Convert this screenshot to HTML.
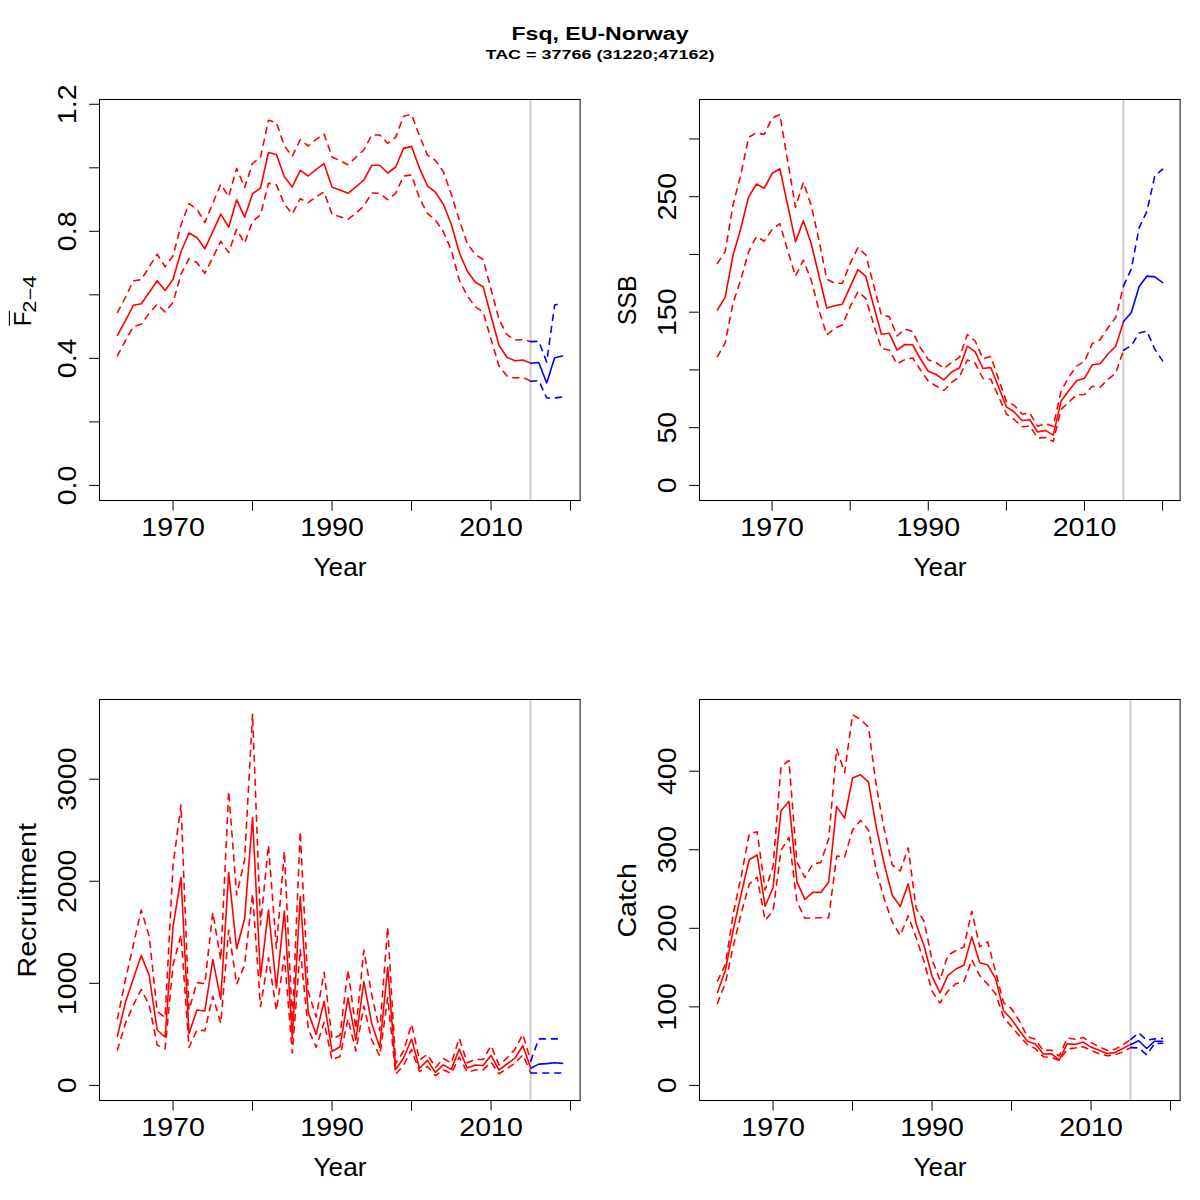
<!DOCTYPE html>
<html><head><meta charset="utf-8"><style>
html,body{margin:0;padding:0;background:#fff;}
svg{display:block;font-family:"Liberation Sans", sans-serif;}
</style></head><body>
<svg width="1200" height="1200" viewBox="0 0 1200 1200">
<rect width="1200" height="1200" fill="#fff"/>
<line x1="530.59" y1="99.40" x2="530.59" y2="500.20" stroke="#cccccc" stroke-width="2"/>
<polyline points="117.41,335.30 125.36,320.80 133.31,305.30 141.26,303.70 149.21,292.50 157.16,280.80 165.11,290.50 173.06,279.20 181.01,251.70 188.96,233.00 196.90,237.50 204.85,248.80 212.80,231.70 220.75,214.20 228.70,227.00 236.65,199.70 244.60,217.20 252.55,193.70 260.50,188.00 268.45,152.50 276.40,154.50 284.35,176.70 292.30,187.00 300.25,170.40 308.20,176.00 316.15,169.30 324.10,163.70 332.05,187.30 340.00,190.00 347.95,193.30 355.90,186.90 363.85,180.00 371.80,165.30 379.75,165.30 387.70,173.00 395.65,167.00 403.60,148.40 411.55,146.40 419.50,168.30 427.45,185.80 435.40,192.20 443.35,204.20 451.30,224.20 459.25,252.50 467.20,271.00 475.15,282.00 483.10,286.70 491.04,316.00 498.99,345.30 506.94,357.30 514.89,360.70 522.84,360.00 530.79,363.30" fill="none" stroke="#ff0000" stroke-width="1.6" stroke-linejoin="round" stroke-linecap="round"/>
<polyline points="117.41,355.80 125.36,340.80 133.31,326.70 141.26,324.20 149.21,313.30 157.16,304.20 165.11,312.00 173.06,302.50 181.01,274.20 188.96,258.70 196.90,262.50 204.85,273.30 212.80,257.50 220.75,241.30 228.70,252.50 236.65,229.20 244.60,243.30 252.55,221.30 260.50,215.00 268.45,183.30 276.40,184.70 284.35,204.20 292.30,214.00 300.25,198.70 308.20,202.70 316.15,196.70 324.10,192.00 332.05,214.40 340.00,216.70 347.95,219.30 355.90,213.30 363.85,206.00 371.80,193.00 379.75,193.30 387.70,199.70 395.65,193.30 403.60,176.00 411.55,175.00 419.50,198.30 427.45,213.30 435.40,220.00 443.35,231.70 451.30,250.00 459.25,280.00 467.20,295.80 475.15,306.70 483.10,312.00 491.04,339.30 498.99,366.00 506.94,376.00 514.89,378.00 522.84,377.30 530.79,381.30" fill="none" stroke="#ff0000" stroke-width="1.6" stroke-linejoin="round" stroke-linecap="round" stroke-dasharray="6 6"/>
<polyline points="117.41,312.50 125.36,297.50 133.31,280.80 141.26,279.70 149.21,266.70 157.16,254.20 165.11,266.70 173.06,255.80 181.01,225.00 188.96,203.70 196.90,209.20 204.85,222.50 212.80,203.30 220.75,184.20 228.70,196.70 236.65,168.30 244.60,187.50 252.55,163.30 260.50,157.50 268.45,120.30 276.40,122.50 284.35,145.80 292.30,156.30 300.25,139.70 308.20,146.00 316.15,139.30 324.10,134.00 332.05,157.00 340.00,160.70 347.95,164.70 355.90,157.30 363.85,150.00 371.80,135.00 379.75,135.00 387.70,143.30 395.65,137.30 403.60,116.20 411.55,114.50 419.50,135.80 427.45,155.00 435.40,160.30 443.35,171.70 451.30,194.20 459.25,220.00 467.20,243.30 475.15,254.50 483.10,259.30 491.04,289.30 498.99,319.30 506.94,334.70 514.89,340.00 522.84,339.70 530.79,341.60" fill="none" stroke="#ff0000" stroke-width="1.6" stroke-linejoin="round" stroke-linecap="round" stroke-dasharray="6 6"/>
<polyline points="530.79,363.30 538.74,362.50 546.69,383.00 554.64,357.80 562.59,356.00" fill="none" stroke="#0000ff" stroke-width="1.6" stroke-linejoin="round" stroke-linecap="round"/>
<polyline points="530.79,381.30 538.74,380.50 546.69,398.00 554.64,398.00 562.59,397.00" fill="none" stroke="#0000ff" stroke-width="1.6" stroke-linejoin="round" stroke-linecap="round" stroke-dasharray="6 6"/>
<polyline points="530.79,341.60 538.74,341.30 546.69,362.00 554.64,305.00 562.59,303.00" fill="none" stroke="#0000ff" stroke-width="1.6" stroke-linejoin="round" stroke-linecap="round" stroke-dasharray="6 6"/>
<rect x="99.50" y="99.50" width="480.60" height="401.00" fill="none" stroke="#000" stroke-width="1"/>
<line x1="173.06" y1="500.50" x2="570.54" y2="500.50" stroke="#000" stroke-width="1"/>
<line x1="173.06" y1="500.50" x2="173.06" y2="510.60" stroke="#000" stroke-width="1"/>
<line x1="252.55" y1="500.50" x2="252.55" y2="510.60" stroke="#000" stroke-width="1"/>
<line x1="332.05" y1="500.50" x2="332.05" y2="510.60" stroke="#000" stroke-width="1"/>
<line x1="411.55" y1="500.50" x2="411.55" y2="510.60" stroke="#000" stroke-width="1"/>
<line x1="491.04" y1="500.50" x2="491.04" y2="510.60" stroke="#000" stroke-width="1"/>
<line x1="570.54" y1="500.50" x2="570.54" y2="510.60" stroke="#000" stroke-width="1"/>
<text x="173.06" y="536.00" font-size="25.3" text-anchor="middle" textLength="63.6" lengthAdjust="spacingAndGlyphs">1970</text>
<text x="332.05" y="536.00" font-size="25.3" text-anchor="middle" textLength="63.6" lengthAdjust="spacingAndGlyphs">1990</text>
<text x="491.04" y="536.00" font-size="25.3" text-anchor="middle" textLength="63.6" lengthAdjust="spacingAndGlyphs">2010</text>
<text x="340.00" y="575.80" font-size="25.3" text-anchor="middle" textLength="53" lengthAdjust="spacingAndGlyphs">Year</text>
<line x1="99.50" y1="485.40" x2="99.50" y2="104.28" stroke="#000" stroke-width="1"/>
<line x1="99.50" y1="485.40" x2="89.20" y2="485.40" stroke="#000" stroke-width="1"/>
<text x="76.00" y="485.40" font-size="25.3" text-anchor="middle" textLength="39.8" lengthAdjust="spacingAndGlyphs" transform="rotate(-90 76.00 485.40)">0.0</text>
<line x1="99.50" y1="421.88" x2="89.20" y2="421.88" stroke="#000" stroke-width="1"/>
<line x1="99.50" y1="358.36" x2="89.20" y2="358.36" stroke="#000" stroke-width="1"/>
<text x="76.00" y="358.36" font-size="25.3" text-anchor="middle" textLength="39.8" lengthAdjust="spacingAndGlyphs" transform="rotate(-90 76.00 358.36)">0.4</text>
<line x1="99.50" y1="294.84" x2="89.20" y2="294.84" stroke="#000" stroke-width="1"/>
<line x1="99.50" y1="231.32" x2="89.20" y2="231.32" stroke="#000" stroke-width="1"/>
<text x="76.00" y="231.32" font-size="25.3" text-anchor="middle" textLength="39.8" lengthAdjust="spacingAndGlyphs" transform="rotate(-90 76.00 231.32)">0.8</text>
<line x1="99.50" y1="167.80" x2="89.20" y2="167.80" stroke="#000" stroke-width="1"/>
<line x1="99.50" y1="104.28" x2="89.20" y2="104.28" stroke="#000" stroke-width="1"/>
<text x="76.00" y="104.28" font-size="25.3" text-anchor="middle" textLength="39.8" lengthAdjust="spacingAndGlyphs" transform="rotate(-90 76.00 104.28)">1.2</text>
<line x1="1123.34" y1="99.40" x2="1123.34" y2="500.20" stroke="#cccccc" stroke-width="2"/>
<polyline points="717.41,310.00 725.22,297.20 733.03,255.20 740.84,228.30 748.65,196.80 756.46,184.00 764.27,188.20 772.08,173.50 779.89,168.80 787.70,205.20 795.51,241.90 803.32,220.80 811.13,243.30 818.94,275.80 826.75,308.00 834.56,305.80 842.37,304.20 850.18,286.70 857.99,269.70 865.80,276.30 873.61,305.80 881.42,334.20 889.23,333.20 897.04,350.20 904.85,344.50 912.66,344.80 920.47,359.00 928.28,371.20 936.09,374.50 943.91,379.80 951.72,372.00 959.53,367.80 967.34,346.20 975.15,351.80 982.96,368.50 990.77,367.50 998.58,387.00 1006.39,406.80 1014.20,412.00 1022.01,420.50 1029.82,419.80 1037.63,432.00 1045.44,430.40 1053.25,435.10 1061.06,401.20 1068.87,390.50 1076.68,380.70 1084.49,378.30 1092.30,364.80 1100.11,363.70 1107.92,354.00 1115.73,346.20 1123.54,321.70" fill="none" stroke="#ff0000" stroke-width="1.6" stroke-linejoin="round" stroke-linecap="round"/>
<polyline points="717.41,356.70 725.22,342.70 733.03,303.00 740.84,279.70 748.65,251.70 756.46,236.50 764.27,241.20 772.08,229.50 779.89,223.70 787.70,250.50 795.51,276.20 803.32,260.20 811.13,280.00 818.94,310.00 826.75,335.00 834.56,328.30 842.37,325.00 850.18,306.70 857.99,291.70 865.80,298.30 873.61,324.20 881.42,348.60 889.23,350.00 897.04,364.00 904.85,359.50 912.66,358.00 920.47,370.00 928.28,381.00 936.09,386.00 943.91,390.50 951.72,382.50 959.53,376.50 967.34,360.00 975.15,363.20 982.96,378.50 990.77,379.20 998.58,396.50 1006.39,414.00 1014.20,419.50 1022.01,426.80 1029.82,426.00 1037.63,438.00 1045.44,437.50 1053.25,441.50 1061.06,409.50 1068.87,402.00 1076.68,394.80 1084.49,394.50 1092.30,386.20 1100.11,387.30 1107.92,379.50 1115.73,373.00 1123.54,350.20" fill="none" stroke="#ff0000" stroke-width="1.6" stroke-linejoin="round" stroke-linecap="round" stroke-dasharray="6 6"/>
<polyline points="717.41,263.30 725.22,251.70 733.03,205.00 740.84,174.70 748.65,137.30 756.46,132.70 764.27,134.50 772.08,118.20 779.89,114.50 787.70,161.10 795.51,207.30 803.32,182.30 811.13,205.00 818.94,240.00 826.75,279.20 834.56,283.30 842.37,283.30 850.18,263.30 857.99,247.50 865.80,255.00 873.61,285.00 881.42,315.00 889.23,316.60 897.04,336.00 904.85,329.00 912.66,331.50 920.47,348.00 928.28,359.70 936.09,362.50 943.91,368.50 951.72,362.50 959.53,357.20 967.34,334.50 975.15,341.00 982.96,358.70 990.77,356.50 998.58,379.00 1006.39,401.50 1014.20,405.20 1022.01,414.00 1029.82,413.20 1037.63,426.20 1045.44,423.50 1053.25,426.50 1061.06,391.00 1068.87,377.00 1076.68,366.00 1084.49,361.50 1092.30,343.50 1100.11,339.80 1107.92,327.80 1115.73,317.50 1123.54,286.00" fill="none" stroke="#ff0000" stroke-width="1.6" stroke-linejoin="round" stroke-linecap="round" stroke-dasharray="6 6"/>
<polyline points="1123.54,321.60 1131.35,312.50 1139.16,286.50 1146.97,276.10 1154.78,276.90 1162.59,282.60" fill="none" stroke="#0000ff" stroke-width="1.6" stroke-linejoin="round" stroke-linecap="round"/>
<polyline points="1123.54,350.30 1131.35,345.50 1139.16,333.00 1146.97,331.10 1154.78,349.30 1162.59,360.90" fill="none" stroke="#0000ff" stroke-width="1.6" stroke-linejoin="round" stroke-linecap="round" stroke-dasharray="6 6"/>
<polyline points="1123.54,285.80 1131.35,268.80 1139.16,227.60 1146.97,211.30 1154.78,175.90 1162.59,169.20" fill="none" stroke="#0000ff" stroke-width="1.6" stroke-linejoin="round" stroke-linecap="round" stroke-dasharray="6 6"/>
<rect x="699.50" y="99.50" width="480.60" height="401.00" fill="none" stroke="#000" stroke-width="1"/>
<line x1="772.08" y1="500.50" x2="1162.59" y2="500.50" stroke="#000" stroke-width="1"/>
<line x1="772.08" y1="500.50" x2="772.08" y2="510.60" stroke="#000" stroke-width="1"/>
<line x1="850.18" y1="500.50" x2="850.18" y2="510.60" stroke="#000" stroke-width="1"/>
<line x1="928.28" y1="500.50" x2="928.28" y2="510.60" stroke="#000" stroke-width="1"/>
<line x1="1006.39" y1="500.50" x2="1006.39" y2="510.60" stroke="#000" stroke-width="1"/>
<line x1="1084.49" y1="500.50" x2="1084.49" y2="510.60" stroke="#000" stroke-width="1"/>
<line x1="1162.59" y1="500.50" x2="1162.59" y2="510.60" stroke="#000" stroke-width="1"/>
<text x="772.08" y="536.00" font-size="25.3" text-anchor="middle" textLength="63.6" lengthAdjust="spacingAndGlyphs">1970</text>
<text x="928.28" y="536.00" font-size="25.3" text-anchor="middle" textLength="63.6" lengthAdjust="spacingAndGlyphs">1990</text>
<text x="1084.49" y="536.00" font-size="25.3" text-anchor="middle" textLength="63.6" lengthAdjust="spacingAndGlyphs">2010</text>
<text x="940.00" y="575.80" font-size="25.3" text-anchor="middle" textLength="53" lengthAdjust="spacingAndGlyphs">Year</text>
<line x1="699.50" y1="485.40" x2="699.50" y2="138.96" stroke="#000" stroke-width="1"/>
<line x1="699.50" y1="485.40" x2="689.20" y2="485.40" stroke="#000" stroke-width="1"/>
<text x="676.00" y="485.40" font-size="25.3" text-anchor="middle" textLength="15.9" lengthAdjust="spacingAndGlyphs" transform="rotate(-90 676.00 485.40)">0</text>
<line x1="699.50" y1="427.66" x2="689.20" y2="427.66" stroke="#000" stroke-width="1"/>
<text x="676.00" y="427.66" font-size="25.3" text-anchor="middle" textLength="31.8" lengthAdjust="spacingAndGlyphs" transform="rotate(-90 676.00 427.66)">50</text>
<line x1="699.50" y1="369.92" x2="689.20" y2="369.92" stroke="#000" stroke-width="1"/>
<line x1="699.50" y1="312.18" x2="689.20" y2="312.18" stroke="#000" stroke-width="1"/>
<text x="676.00" y="312.18" font-size="25.3" text-anchor="middle" textLength="47.7" lengthAdjust="spacingAndGlyphs" transform="rotate(-90 676.00 312.18)">150</text>
<line x1="699.50" y1="254.44" x2="689.20" y2="254.44" stroke="#000" stroke-width="1"/>
<line x1="699.50" y1="196.70" x2="689.20" y2="196.70" stroke="#000" stroke-width="1"/>
<text x="676.00" y="196.70" font-size="25.3" text-anchor="middle" textLength="47.7" lengthAdjust="spacingAndGlyphs" transform="rotate(-90 676.00 196.70)">250</text>
<line x1="699.50" y1="138.96" x2="689.20" y2="138.96" stroke="#000" stroke-width="1"/>
<text x="636.00" y="300.30" font-size="25.3" text-anchor="middle" textLength="50" lengthAdjust="spacingAndGlyphs" transform="rotate(-90 636.00 300.30)">SSB</text>
<line x1="530.59" y1="699.40" x2="530.59" y2="1100.20" stroke="#cccccc" stroke-width="2"/>
<polyline points="117.41,1036.30 125.36,1002.50 133.31,978.80 141.26,955.50 149.21,975.50 157.16,1030.00 165.11,1037.00 173.06,926.30 181.01,877.50 188.96,1033.80 196.90,1010.00 204.85,1011.00 212.80,959.60 220.75,999.30 228.70,872.50 236.65,948.80 244.60,918.80 252.55,817.50 260.50,977.00 268.45,910.00 276.40,988.00 284.35,911.00 292.30,1038.00 300.25,896.50 308.20,1012.30 316.15,1034.50 324.10,1001.20 332.05,1051.50 340.00,1046.80 347.95,998.00 355.90,1040.00 363.85,981.60 371.80,1023.80 379.75,1047.20 387.70,967.40 395.65,1069.50 403.60,1058.00 411.55,1039.00 419.50,1068.30 427.45,1060.40 435.40,1072.40 443.35,1064.90 451.30,1069.40 459.25,1049.10 467.20,1068.00 475.15,1065.00 483.10,1065.50 491.04,1055.40 498.99,1070.00 506.94,1064.00 514.89,1058.10 522.84,1045.70 530.79,1068.20" fill="none" stroke="#ff0000" stroke-width="1.6" stroke-linejoin="round" stroke-linecap="round"/>
<polyline points="117.41,1050.00 125.36,1023.80 133.31,1005.00 141.26,989.50 149.21,1005.00 157.16,1045.00 165.11,1048.80 173.06,965.00 181.01,935.00 188.96,1047.50 196.90,1030.00 204.85,1030.70 212.80,996.20 220.75,1023.30 228.70,930.00 236.65,984.20 244.60,965.00 252.55,893.80 260.50,1006.70 268.45,957.80 276.40,1010.40 284.35,956.30 292.30,1053.00 300.25,949.30 308.20,1028.70 316.15,1047.30 324.10,1022.30 332.05,1059.80 340.00,1056.60 347.95,1018.80 355.90,1051.00 363.85,1006.00 371.80,1040.00 379.75,1055.90 387.70,997.60 395.65,1074.20 403.60,1065.30 411.55,1049.50 419.50,1071.60 427.45,1066.40 435.40,1075.80 443.35,1069.80 451.30,1073.50 459.25,1057.00 467.20,1072.00 475.15,1070.00 483.10,1070.00 491.04,1062.20 498.99,1073.70 506.94,1068.70 514.89,1063.20 522.84,1054.90 530.79,1072.80" fill="none" stroke="#ff0000" stroke-width="1.6" stroke-linejoin="round" stroke-linecap="round" stroke-dasharray="6 6"/>
<polyline points="117.41,1018.80 125.36,980.00 133.31,945.00 141.26,910.00 149.21,936.30 157.16,1011.30 165.11,1017.50 173.06,865.00 181.01,805.00 188.96,1010.00 196.90,982.50 204.85,983.80 212.80,912.50 220.75,960.00 228.70,791.30 236.65,895.00 244.60,860.00 252.55,713.80 260.50,925.00 268.45,845.00 276.40,948.40 284.35,851.30 292.30,1021.70 300.25,831.40 308.20,991.30 316.15,1017.00 324.10,972.40 332.05,1038.70 340.00,1035.30 347.95,970.00 355.90,1029.00 363.85,950.30 371.80,995.00 379.75,1030.50 387.70,927.00 395.65,1063.60 403.60,1051.00 411.55,1024.20 419.50,1060.00 427.45,1054.40 435.40,1067.50 443.35,1058.50 451.30,1063.00 459.25,1038.30 467.20,1062.70 475.15,1059.50 483.10,1059.50 491.04,1045.70 498.99,1065.00 506.94,1058.10 514.89,1049.40 522.84,1034.30 530.79,1060.90" fill="none" stroke="#ff0000" stroke-width="1.6" stroke-linejoin="round" stroke-linecap="round" stroke-dasharray="6 6"/>
<polyline points="530.79,1068.20 538.74,1064.10 546.69,1063.60 554.64,1062.70 562.59,1063.40" fill="none" stroke="#0000ff" stroke-width="1.6" stroke-linejoin="round" stroke-linecap="round"/>
<polyline points="530.79,1073.00 538.74,1073.00 546.69,1073.00 554.64,1073.00 562.59,1073.00" fill="none" stroke="#0000ff" stroke-width="1.6" stroke-linejoin="round" stroke-linecap="round" stroke-dasharray="6 6"/>
<polyline points="530.79,1060.90 538.74,1038.90 546.69,1038.90 554.64,1038.90 562.59,1038.90" fill="none" stroke="#0000ff" stroke-width="1.6" stroke-linejoin="round" stroke-linecap="round" stroke-dasharray="6 6"/>
<rect x="99.50" y="699.50" width="480.60" height="401.00" fill="none" stroke="#000" stroke-width="1"/>
<line x1="173.06" y1="1100.50" x2="570.54" y2="1100.50" stroke="#000" stroke-width="1"/>
<line x1="173.06" y1="1100.50" x2="173.06" y2="1110.60" stroke="#000" stroke-width="1"/>
<line x1="252.55" y1="1100.50" x2="252.55" y2="1110.60" stroke="#000" stroke-width="1"/>
<line x1="332.05" y1="1100.50" x2="332.05" y2="1110.60" stroke="#000" stroke-width="1"/>
<line x1="411.55" y1="1100.50" x2="411.55" y2="1110.60" stroke="#000" stroke-width="1"/>
<line x1="491.04" y1="1100.50" x2="491.04" y2="1110.60" stroke="#000" stroke-width="1"/>
<line x1="570.54" y1="1100.50" x2="570.54" y2="1110.60" stroke="#000" stroke-width="1"/>
<text x="173.06" y="1136.00" font-size="25.3" text-anchor="middle" textLength="63.6" lengthAdjust="spacingAndGlyphs">1970</text>
<text x="332.05" y="1136.00" font-size="25.3" text-anchor="middle" textLength="63.6" lengthAdjust="spacingAndGlyphs">1990</text>
<text x="491.04" y="1136.00" font-size="25.3" text-anchor="middle" textLength="63.6" lengthAdjust="spacingAndGlyphs">2010</text>
<text x="340.00" y="1175.80" font-size="25.3" text-anchor="middle" textLength="53" lengthAdjust="spacingAndGlyphs">Year</text>
<line x1="99.50" y1="1085.40" x2="99.50" y2="779.19" stroke="#000" stroke-width="1"/>
<line x1="99.50" y1="1085.40" x2="89.20" y2="1085.40" stroke="#000" stroke-width="1"/>
<text x="76.00" y="1085.40" font-size="25.3" text-anchor="middle" textLength="15.9" lengthAdjust="spacingAndGlyphs" transform="rotate(-90 76.00 1085.40)">0</text>
<line x1="99.50" y1="983.33" x2="89.20" y2="983.33" stroke="#000" stroke-width="1"/>
<text x="76.00" y="983.33" font-size="25.3" text-anchor="middle" textLength="63.6" lengthAdjust="spacingAndGlyphs" transform="rotate(-90 76.00 983.33)">1000</text>
<line x1="99.50" y1="881.26" x2="89.20" y2="881.26" stroke="#000" stroke-width="1"/>
<text x="76.00" y="881.26" font-size="25.3" text-anchor="middle" textLength="63.6" lengthAdjust="spacingAndGlyphs" transform="rotate(-90 76.00 881.26)">2000</text>
<line x1="99.50" y1="779.19" x2="89.20" y2="779.19" stroke="#000" stroke-width="1"/>
<text x="76.00" y="779.19" font-size="25.3" text-anchor="middle" textLength="63.6" lengthAdjust="spacingAndGlyphs" transform="rotate(-90 76.00 779.19)">3000</text>
<text x="36.00" y="900.30" font-size="25.3" text-anchor="middle" textLength="154.5" lengthAdjust="spacingAndGlyphs" transform="rotate(-90 36.00 900.30)">Recruitment</text>
<line x1="1130.59" y1="699.40" x2="1130.59" y2="1100.20" stroke="#cccccc" stroke-width="2"/>
<polyline points="717.41,992.70 725.36,970.50 733.31,929.70 741.26,893.50 749.21,859.70 757.16,855.00 765.11,906.30 773.06,887.70 781.01,810.70 788.96,801.30 796.90,881.80 804.85,899.30 812.80,892.40 820.75,892.40 828.70,882.00 836.65,806.60 844.60,818.10 852.55,778.00 860.50,774.80 868.45,781.90 876.40,827.80 884.35,864.70 892.30,895.30 900.25,906.50 908.20,883.70 916.15,924.00 924.10,946.00 932.05,976.30 940.00,992.80 947.95,975.40 955.90,969.00 963.85,965.30 971.80,936.90 979.75,962.70 987.70,965.10 995.65,978.70 1003.60,1010.70 1011.55,1019.30 1019.50,1030.70 1027.45,1041.30 1035.40,1044.00 1043.35,1054.00 1051.30,1053.70 1059.25,1060.00 1067.20,1043.70 1075.15,1044.40 1083.10,1042.10 1091.04,1047.10 1098.99,1050.30 1106.94,1053.50 1114.89,1052.60 1122.84,1048.50 1130.79,1044.40" fill="none" stroke="#ff0000" stroke-width="1.6" stroke-linejoin="round" stroke-linecap="round"/>
<polyline points="717.41,1003.20 725.36,983.30 733.31,946.00 741.26,913.30 749.21,884.20 757.16,877.20 765.11,920.30 773.06,911.00 781.01,850.30 788.96,837.50 796.90,901.70 804.85,918.20 812.80,917.80 820.75,917.80 828.70,917.80 836.65,856.00 844.60,857.10 852.55,830.00 860.50,820.30 868.45,830.00 876.40,871.20 884.35,899.30 892.30,922.00 900.25,935.50 908.20,915.80 916.15,937.80 924.10,961.70 932.05,991.00 940.00,1003.00 947.95,991.00 955.90,983.70 963.85,981.80 971.80,959.80 979.75,975.50 987.70,984.30 995.65,994.00 1003.60,1017.30 1011.55,1026.70 1019.50,1036.00 1027.45,1044.70 1035.40,1048.70 1043.35,1056.70 1051.30,1057.30 1059.25,1060.70 1067.20,1049.00 1075.15,1048.00 1083.10,1046.70 1091.04,1050.30 1098.99,1053.50 1106.94,1055.80 1114.89,1054.90 1122.84,1051.70 1130.79,1047.60" fill="none" stroke="#ff0000" stroke-width="1.6" stroke-linejoin="round" stroke-linecap="round" stroke-dasharray="6 6"/>
<polyline points="717.41,981.00 725.36,964.70 733.31,913.30 741.26,876.00 749.21,834.00 757.16,831.70 765.11,890.00 773.06,866.70 781.01,766.30 788.96,760.50 796.90,862.00 804.85,877.50 812.80,864.20 820.75,862.50 828.70,838.70 836.65,748.80 844.60,772.60 852.55,714.70 860.50,719.50 868.45,727.10 876.40,786.70 884.35,830.00 892.30,865.00 900.25,871.00 908.20,847.90 916.15,908.40 924.10,921.30 932.05,959.80 940.00,980.00 947.95,955.20 955.90,950.60 963.85,947.00 971.80,911.20 979.75,946.80 987.70,942.00 995.65,972.00 1003.60,1002.70 1011.55,1008.70 1019.50,1021.30 1027.45,1036.70 1035.40,1039.30 1043.35,1050.70 1051.30,1050.00 1059.25,1056.00 1067.20,1038.00 1075.15,1039.30 1083.10,1037.50 1091.04,1042.50 1098.99,1046.70 1106.94,1050.30 1114.89,1049.40 1122.84,1044.80 1130.79,1039.30" fill="none" stroke="#ff0000" stroke-width="1.6" stroke-linejoin="round" stroke-linecap="round" stroke-dasharray="6 6"/>
<polyline points="1130.79,1044.40 1138.74,1040.70 1146.69,1048.50 1154.64,1041.20 1162.59,1041.20" fill="none" stroke="#0000ff" stroke-width="1.6" stroke-linejoin="round" stroke-linecap="round"/>
<polyline points="1130.79,1047.60 1138.74,1048.00 1146.69,1054.90 1154.64,1043.50 1162.59,1043.20" fill="none" stroke="#0000ff" stroke-width="1.6" stroke-linejoin="round" stroke-linecap="round" stroke-dasharray="6 6"/>
<polyline points="1130.79,1039.30 1138.74,1032.90 1146.69,1040.20 1154.64,1038.90 1162.59,1038.40" fill="none" stroke="#0000ff" stroke-width="1.6" stroke-linejoin="round" stroke-linecap="round" stroke-dasharray="6 6"/>
<rect x="699.50" y="699.50" width="480.60" height="401.00" fill="none" stroke="#000" stroke-width="1"/>
<line x1="773.06" y1="1100.50" x2="1170.54" y2="1100.50" stroke="#000" stroke-width="1"/>
<line x1="773.06" y1="1100.50" x2="773.06" y2="1110.60" stroke="#000" stroke-width="1"/>
<line x1="852.55" y1="1100.50" x2="852.55" y2="1110.60" stroke="#000" stroke-width="1"/>
<line x1="932.05" y1="1100.50" x2="932.05" y2="1110.60" stroke="#000" stroke-width="1"/>
<line x1="1011.55" y1="1100.50" x2="1011.55" y2="1110.60" stroke="#000" stroke-width="1"/>
<line x1="1091.04" y1="1100.50" x2="1091.04" y2="1110.60" stroke="#000" stroke-width="1"/>
<line x1="1170.54" y1="1100.50" x2="1170.54" y2="1110.60" stroke="#000" stroke-width="1"/>
<text x="773.06" y="1136.00" font-size="25.3" text-anchor="middle" textLength="63.6" lengthAdjust="spacingAndGlyphs">1970</text>
<text x="932.05" y="1136.00" font-size="25.3" text-anchor="middle" textLength="63.6" lengthAdjust="spacingAndGlyphs">1990</text>
<text x="1091.04" y="1136.00" font-size="25.3" text-anchor="middle" textLength="63.6" lengthAdjust="spacingAndGlyphs">2010</text>
<text x="940.00" y="1175.80" font-size="25.3" text-anchor="middle" textLength="53" lengthAdjust="spacingAndGlyphs">Year</text>
<line x1="699.50" y1="1085.40" x2="699.50" y2="771.20" stroke="#000" stroke-width="1"/>
<line x1="699.50" y1="1085.40" x2="689.20" y2="1085.40" stroke="#000" stroke-width="1"/>
<text x="676.00" y="1085.40" font-size="25.3" text-anchor="middle" textLength="15.9" lengthAdjust="spacingAndGlyphs" transform="rotate(-90 676.00 1085.40)">0</text>
<line x1="699.50" y1="1006.85" x2="689.20" y2="1006.85" stroke="#000" stroke-width="1"/>
<text x="676.00" y="1006.85" font-size="25.3" text-anchor="middle" textLength="47.7" lengthAdjust="spacingAndGlyphs" transform="rotate(-90 676.00 1006.85)">100</text>
<line x1="699.50" y1="928.30" x2="689.20" y2="928.30" stroke="#000" stroke-width="1"/>
<text x="676.00" y="928.30" font-size="25.3" text-anchor="middle" textLength="47.7" lengthAdjust="spacingAndGlyphs" transform="rotate(-90 676.00 928.30)">200</text>
<line x1="699.50" y1="849.75" x2="689.20" y2="849.75" stroke="#000" stroke-width="1"/>
<text x="676.00" y="849.75" font-size="25.3" text-anchor="middle" textLength="47.7" lengthAdjust="spacingAndGlyphs" transform="rotate(-90 676.00 849.75)">300</text>
<line x1="699.50" y1="771.20" x2="689.20" y2="771.20" stroke="#000" stroke-width="1"/>
<text x="676.00" y="771.20" font-size="25.3" text-anchor="middle" textLength="47.7" lengthAdjust="spacingAndGlyphs" transform="rotate(-90 676.00 771.20)">400</text>
<text x="636.00" y="900.30" font-size="25.3" text-anchor="middle" textLength="74.5" lengthAdjust="spacingAndGlyphs" transform="rotate(-90 636.00 900.30)">Catch</text>
<text x="600.00" y="40.00" font-size="18.7" text-anchor="middle" font-weight="bold" textLength="177" lengthAdjust="spacingAndGlyphs">Fsq, EU-Norway</text>
<text x="600.00" y="59.40" font-size="12.3" text-anchor="middle" font-weight="bold" textLength="229" lengthAdjust="spacingAndGlyphs">TAC = 37766 (31220;47162)</text>
<text transform="translate(30.8 326.3) rotate(-90)" font-size="24.2">F</text>
<line x1="9.4" y1="311" x2="9.4" y2="325.7" stroke="#000" stroke-width="1.1"/>
<text transform="translate(36 294.2) rotate(-90)" font-size="17.8" text-anchor="middle" textLength="37" lengthAdjust="spacingAndGlyphs">2−4</text>
</svg></body></html>
